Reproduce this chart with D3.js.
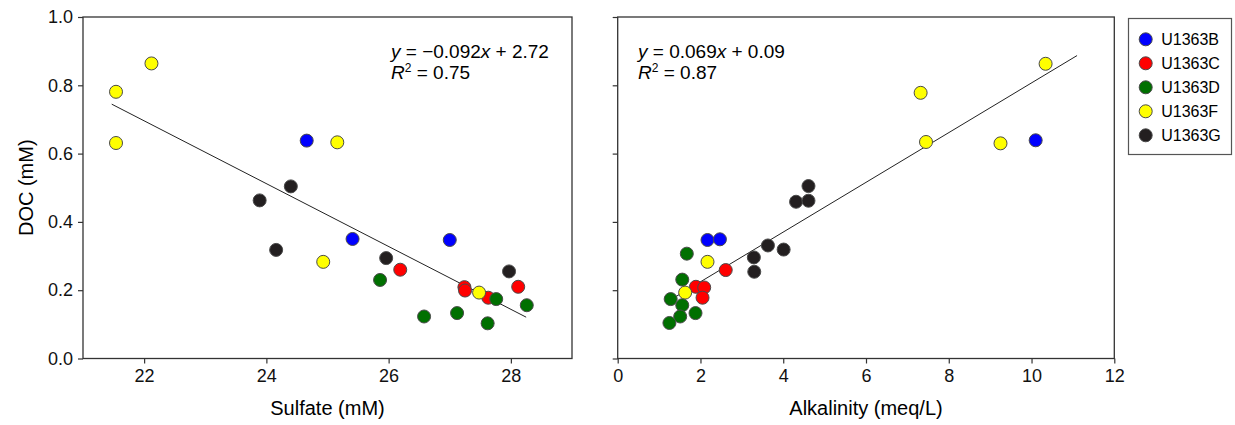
<!DOCTYPE html>
<html lang="en">
<head>
    <meta charset="UTF-8">
    <title>DOC vs sulfate and alkalinity</title>
    <script src="https://d3js.org/d3.v7.min.js"></script>
    <style type="text/css">
        body { margin: 0; background: white; }
        svg { font-family: "Liberation Sans", Arial, Helvetica, sans-serif; }
        .axis text { font-size: 18px; fill: #111; }
        .axis line { stroke: #333; stroke-width: 1.2; }
        .axis path { display: none; }
    </style>
</head>
<body>
<script type="text/javascript">

    // sites (legend order = drawing order)
    const sites = ["U1363B", "U1363C", "U1363D", "U1363F", "U1363G"];
    const siteColors = ["#0000ff", "#ff0000", "#007000", "#ffff00", "#231f20"];

    // left panel: sulfate (mM) vs DOC (mM)
    const sulfateB = [24.66, 25.41, 27.00];
    const docSulfB = [0.638, 0.350, 0.347];
    const sulfateC = [26.19, 27.24, 27.25, 27.63, 28.12];
    const docSulfC = [0.260, 0.209, 0.199, 0.178, 0.210];
    const sulfateD = [25.86, 26.58, 27.12, 27.76, 27.62, 28.26];
    const docSulfD = [0.230, 0.123, 0.133, 0.174, 0.103, 0.156];
    const sulfateF = [21.54, 22.12, 21.54, 25.16, 24.93, 27.48];
    const docSulfF = [0.781, 0.864, 0.631, 0.633, 0.283, 0.193];
    const sulfateG = [23.89, 24.40, 24.16, 25.96, 27.97];
    const docSulfG = [0.463, 0.504, 0.318, 0.294, 0.255];

    // right panel: alkalinity (meq/L) vs DOC (mM)
    const alkB = [2.17, 2.47, 10.10];
    const docAlkB = [0.347, 0.349, 0.639];
    const alkC = [2.61, 1.89, 2.09, 2.05];
    const docAlkC = [0.259, 0.210, 0.208, 0.178];
    const alkD = [1.67, 1.56, 1.28, 1.56, 1.88, 1.51, 1.25];
    const docAlkD = [0.307, 0.231, 0.174, 0.156, 0.133, 0.123, 0.104];
    const alkF = [2.17, 1.63, 7.32, 7.45, 9.25, 10.34];
    const docAlkF = [0.283, 0.193, 0.778, 0.634, 0.630, 0.863];
    const alkG = [4.31, 4.61, 4.61, 3.29, 3.30, 3.63, 4.01];
    const docAlkG = [0.459, 0.462, 0.505, 0.296, 0.254, 0.331, 0.319];

    // regression lines [slope, intercept] and the x range they are drawn over
    const fitLeft = [-0.092, 2.72];
    const fitLeftRange = [21.47, 28.25];
    const fitRight = [0.0728, 0.079];
    const fitRightRange = [1.25, 11.1];

    // tick labels
    const sulfateTicks = [22, 24, 26, 28];
    const alkTicks = [0, 2, 4, 6, 8, 10, 12];
    const docTicks = [0, 0.2, 0.4, 0.6, 0.8, 1.0];

    const width = 1235, height = 425;
    const plotTop = 17, plotBottom = 358.5;
    const r = 6.5;

    const svg = d3.select("body").append("svg")
        .attr("width", width)
        .attr("height", height);

    const y = d3.scaleLinear().domain([0, 1]).range([plotBottom, plotTop]);

    function points(xs, ys) {
        return xs.map((v, i) => ({x: v, y: ys[i]}));
    }

    function drawPanel(opts) {
        const x = d3.scaleLinear().domain(opts.domain).range([opts.left, opts.right]);
        const g = svg.append("g");

        g.append("g")
            .attr("class", "axis")
            .attr("transform", `translate(0,${plotBottom})`)
            .call(d3.axisBottom(x).tickValues(opts.xticks).tickSize(5).tickPadding(6)
                .tickFormat(d3.format("d")));

        g.append("g")
            .attr("class", "axis")
            .attr("transform", `translate(${opts.left},0)`)
            .call(d3.axisLeft(y).tickValues(docTicks).tickSize(5).tickPadding(5)
                .tickFormat(opts.yLabels ? d3.format(".1f") : ""));

        g.append("rect")
            .attr("x", opts.left)
            .attr("y", plotTop)
            .attr("width", opts.right - opts.left)
            .attr("height", plotBottom - plotTop)
            .attr("fill", "none")
            .attr("stroke", "#333")
            .attr("stroke-width", 1.3);

        // fit line
        const fr = opts.fitRange;
        g.append("line")
            .attr("x1", x(fr[0])).attr("y1", y(opts.fit[0] * fr[0] + opts.fit[1]))
            .attr("x2", x(fr[1])).attr("y2", y(opts.fit[0] * fr[1] + opts.fit[1]))
            .attr("stroke", "#222")
            .attr("stroke-width", 1);

        opts.series.forEach((s, k) => {
            g.selectAll(null)
                .data(s)
                .enter().append("circle")
                .attr("cx", d => x(d.x))
                .attr("cy", d => y(d.y))
                .attr("r", r)
                .attr("fill", siteColors[k])
                .attr("stroke", "#4a4a4a")
                .attr("stroke-width", 1);
        });

        g.append("text")
            .attr("x", (opts.left + opts.right) / 2)
            .attr("y", 415)
            .attr("text-anchor", "middle")
            .style("font-size", "20px")
            .text(opts.xTitle);

        // equation
        const eq = g.append("text")
            .attr("x", opts.eqX)
            .attr("y", 58)
            .style("font-size", "19px");
        eq.append("tspan").style("font-style", "italic").text("y");
        eq.append("tspan").text(" = " + opts.eqA);
        eq.append("tspan").style("font-style", "italic").text("x");
        eq.append("tspan").text(" + " + opts.eqB);

        const r2 = g.append("text")
            .attr("x", opts.eqX)
            .attr("y", 79)
            .style("font-size", "19px");
        r2.append("tspan").style("font-style", "italic").text("R");
        r2.append("tspan").attr("dy", -7).style("font-size", "12px").text("2");
        r2.append("tspan").attr("dy", 7).text(" = " + opts.r2);
    }

    drawPanel({
        left: 83, right: 572, domain: [21, 29], xticks: sulfateTicks, yLabels: true,
        fit: fitLeft, fitRange: fitLeftRange,
        series: [points(sulfateB, docSulfB), points(sulfateC, docSulfC), points(sulfateD, docSulfD),
                 points(sulfateF, docSulfF), points(sulfateG, docSulfG)],
        xTitle: "Sulfate (mM)",
        eqX: 391, eqA: "\u22120.092", eqB: "2.72", r2: "0.75"
    });

    drawPanel({
        left: 617.7, right: 1114.3, domain: [0, 12], xticks: alkTicks, yLabels: false,
        fit: fitRight, fitRange: fitRightRange,
        series: [points(alkB, docAlkB), points(alkC, docAlkC), points(alkD, docAlkD),
                 points(alkF, docAlkF), points(alkG, docAlkG)],
        xTitle: "Alkalinity (meq/L)",
        eqX: 638, eqA: "0.069", eqB: "0.09", r2: "0.87"
    });

    // y title
    svg.append("text")
        .attr("transform", `translate(32.5,${(plotTop + plotBottom) / 2}) rotate(-90)`)
        .attr("text-anchor", "middle")
        .style("font-size", "20px")
        .text("DOC (mM)");

    // legend
    const legend = svg.append("g");
    legend.append("rect")
        .attr("x", 1128.5).attr("y", 18.5)
        .attr("width", 103).attr("height", 136)
        .attr("fill", "white")
        .attr("stroke", "#555")
        .attr("stroke-width", 1.2);

    const item = legend.selectAll("g.item")
        .data(sites)
        .enter().append("g")
        .attr("class", "item")
        .attr("transform", (d, i) => `translate(1145.7,${39.3 + i * 24})`);
    item.append("circle")
        .attr("r", r)
        .attr("fill", (d, i) => siteColors[i])
        .attr("stroke", "#4a4a4a")
        .attr("stroke-width", 1);
    item.append("text")
        .attr("x", 15.5)
        .attr("dy", "0.36em")
        .style("font-size", "16px")
        .text(d => d);

</script>
</body>
</html>
